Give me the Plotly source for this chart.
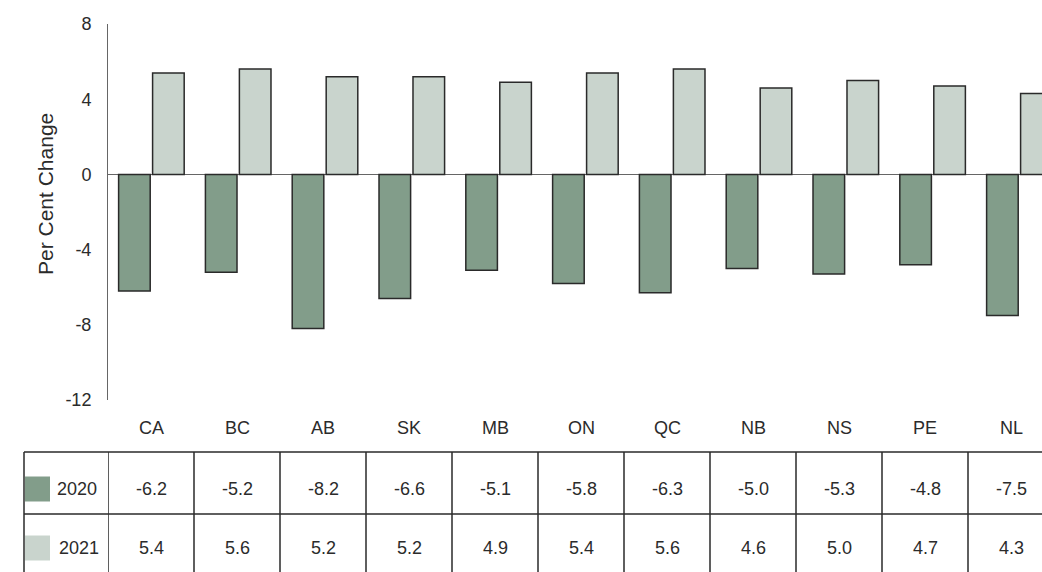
import plotly.graph_objects as go

# ---- data ----
categories = ["CA", "BC", "AB", "SK", "MB", "ON", "QC", "NB", "NS", "PE", "NL"]
series_names = ["2020", "2021"]
values_2020 = [-6.2, -5.2, -8.2, -6.6, -5.1, -5.8, -6.3, -5.0, -5.3, -4.8, -7.5]
values_2021 = [5.4, 5.6, 5.2, 5.2, 4.9, 5.4, 5.6, 4.6, 5.0, 4.7, 4.3]
y_ticks = [-12, -8, -4, 0, 4, 8]
y_title = "Per Cent Change"

# ---- style ----
colors = ["#829d8a", "#c9d4cd"]
outline = "#2a2a2a"
text_col = "#2b2b2b"
font_family = "Liberation Sans, Arial, sans-serif"

W, H = 1042, 572
L, R, T, B = 108, 0, 24, 172
PW = W - L - R
PH = H - T - B


def px_x(px):
    return (px - L) / PW


def px_y(py):
    return (H - B - py) / PH


bar_spacing = 86.8   # pixel width of one category in the chart
col_spacing = 86.0   # pixel width of one table column

fig = go.Figure()
series_values = [values_2020, values_2021]
for name, vals, c in zip(series_names, series_values, colors):
    fig.add_trace(go.Bar(
        x=categories, y=vals, name=name,
        marker=dict(color=c, line=dict(color=outline, width=1.5)),
        showlegend=False,
    ))

# invisible trace to establish table axis
fig.add_trace(go.Scatter(x=categories, y=[None] * len(categories), xaxis="x2",
                         mode="markers", showlegend=False, hoverinfo="skip"))

shapes = []
annotations = []

# table geometry (pixels)
tab_top, tab_mid, tab_bot = 452, 514, 578
tab_left_px = 24
row_y = [489, 548]
cat_label_y = 428

for py in (tab_top, tab_mid, tab_bot):
    shapes.append(dict(type="line", xref="paper", yref="paper",
                       x0=px_x(tab_left_px), x1=1.02, y0=px_y(py), y1=px_y(py),
                       line=dict(color=outline, width=1.5)))
shapes.append(dict(type="line", xref="paper", yref="paper",
                   x0=px_x(tab_left_px), x1=px_x(tab_left_px),
                   y0=px_y(tab_top), y1=px_y(tab_bot),
                   line=dict(color=outline, width=1.5)))
for k in range(len(categories)):
    shapes.append(dict(type="line", xref="x2", yref="paper",
                       x0=k - 0.5, x1=k - 0.5, y0=px_y(tab_top), y1=px_y(tab_bot),
                       line=dict(color=outline, width=1.5)))

# category labels above table
for cat in categories:
    annotations.append(dict(x=cat, y=px_y(cat_label_y), xref="x2", yref="paper",
                            text=cat, showarrow=False, xanchor="center", yanchor="middle",
                            font=dict(size=18, color=text_col)))

# table rows
swatch_x = (25, 50)
name_x = [77, 79]
for i, (name, vals, c) in enumerate(zip(series_names, series_values, colors)):
    yc = row_y[i]
    shapes.append(dict(type="rect", xref="paper", yref="paper",
                       x0=px_x(swatch_x[0]), x1=px_x(swatch_x[1]),
                       y0=px_y(yc - 12.5), y1=px_y(yc + 12.5),
                       fillcolor=c, line=dict(width=0)))
    annotations.append(dict(x=px_x(name_x[i]), y=px_y(yc), xref="paper", yref="paper",
                            text=name, showarrow=False, xanchor="center", yanchor="middle",
                            font=dict(size=18, color=text_col)))
    for cat, v in zip(categories, vals):
        annotations.append(dict(x=cat, y=px_y(yc), xref="x2", yref="paper",
                                text=f"{v:.1f}", showarrow=False,
                                xanchor="center", yanchor="middle",
                                font=dict(size=18, color=text_col)))

# y-axis title
annotations.append(dict(x=px_x(45), y=px_y(194), xref="paper", yref="paper",
                        text=y_title, textangle=-90, showarrow=False,
                        xanchor="center", yanchor="middle",
                        font=dict(size=21, color=text_col)))

fig.update_layout(
    width=W, height=H,
    margin=dict(l=L, r=R, t=T, b=B, pad=0),
    paper_bgcolor="white", plot_bgcolor="white",
    font=dict(family=font_family, size=18, color=text_col),
    barmode="group", bargap=0.217, bargroupgap=0.07,
    xaxis=dict(type="category", categoryorder="array", categoryarray=categories,
               range=[-0.5, -0.5 + PW / bar_spacing],
               showticklabels=False, ticks="", showline=False, showgrid=False,
               zeroline=False),
    xaxis2=dict(type="category", categoryorder="array", categoryarray=categories,
                overlaying="x", anchor="y", side="bottom",
                range=[-0.5, -0.5 + PW / col_spacing],
                showticklabels=False, ticks="", showline=False, showgrid=False,
                zeroline=False),
    yaxis=dict(range=[-12, 8], tickvals=y_ticks, ticktext=[str(t) for t in y_ticks],
               showgrid=False, showline=True, linecolor="#666666", linewidth=1,
               zeroline=True, zerolinecolor="#666666", zerolinewidth=1,
               ticks="", ticklabelstandoff=12,
               tickfont=dict(size=18, color=text_col)),
    shapes=shapes,
    annotations=annotations,
)

fig.write_html(
    "out.html",
    config={"displayModeBar": False},
    post_script="document.body.style.margin='0';document.body.style.overflow='hidden';",
)
